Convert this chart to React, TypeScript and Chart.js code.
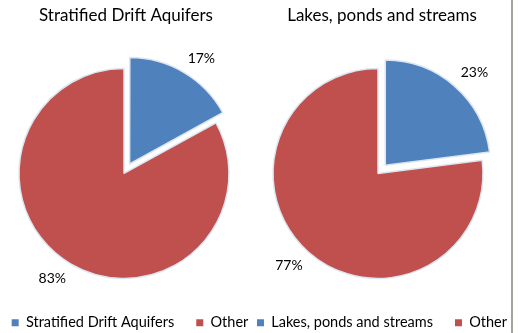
import React, { useEffect, useRef } from 'react';
import { Chart, registerables } from 'chart.js';

Chart.register(...registerables);

const leftTitle = 'Stratified Drift Aquifers';
const leftLabels = ['Stratified Drift Aquifers', 'Other'];
const leftValues = [17, 83];

const rightTitle = 'Lakes, ponds and streams';
const rightLabels = ['Lakes, ponds and streams', 'Other'];
const rightValues = [23, 77];

const sliceColors = ['#4f81bd', '#c0504d'];
// Chart.js arc offset is drawn at offset/4 px, so 44 -> 11px explode
const explode = [44, 0];

const FONT = 'Lato, "Open Sans", sans-serif';

const pctLabelPlugin = {
  id: 'pctLabels',
  afterDatasetsDraw(chart: any) {
    const ctx = chart.ctx;
    const meta = chart.getDatasetMeta(0);
    const ds = chart.data.datasets[0];
    const total = ds.data.reduce((a: number, b: number) => a + b, 0);
    ctx.save();
    ctx.font = `14px ${FONT}`;
    ctx.fillStyle = '#000';
    ctx.textAlign = 'center';
    ctx.textBaseline = 'middle';
    meta.data.forEach((arc: any, i: number) => {
      const { x, y, startAngle, endAngle, outerRadius } = arc.getProps(
        ['x', 'y', 'startAngle', 'endAngle', 'outerRadius'],
        true
      );
      const mid = (startAngle + endAngle) / 2;
      const off = ((ds.offset && ds.offset[i]) || 0) / 4;
      const text = Math.round((ds.data[i] / total) * 100) + '%';
      const w = ctx.measureText(text).width;
      const h = 14;
      const r = outerRadius + off + 9;
      const cx = x + Math.cos(mid) * r + Math.sign(Math.cos(mid)) * w / 2;
      const cy = y + Math.sin(mid) * r + Math.sign(Math.sin(mid)) * h / 2;
      ctx.fillText(text, cx, cy);
    });
    ctx.restore();
  },
};

const shiftPlugin = {
  id: 'boxShift',
  afterLayout(chart: any, _args: any, opts: any) {
    const t = opts.title || 0;
    const l = opts.legend || 0;
    if (chart.titleBlock) {
      chart.titleBlock.left += t;
      chart.titleBlock.right += t;
    }
    if (chart.legend) {
      chart.legend.left += l;
      chart.legend.right += l;
    }
  },
};

function PieChart({
  title,
  labels,
  values,
  left,
  titleShift,
  legendShift,
}: {
  title: string;
  labels: string[];
  values: number[];
  left: number;
  titleShift: number;
  legendShift: number;
}) {
  const ref = useRef<HTMLCanvasElement>(null);
  useEffect(() => {
    if (!ref.current) return;
    const chart = new Chart(ref.current, {
      type: 'pie',
      data: {
        labels,
        datasets: [
          {
            data: values,
            backgroundColor: sliceColors,
            borderColor: '#dce6f2',
            borderWidth: 1.5,
            offset: explode,
            radius: 105,
          } as any,
        ],
      },
      options: {
        responsive: false,
        animation: false,
        layout: { padding: 0 },
        plugins: {
          title: {
            display: true,
            text: title,
            color: '#000',
            font: { family: FONT, size: 17, weight: 'normal' },
            padding: { top: 5, bottom: 28 },
          },
          legend: {
            position: 'bottom',
            labels: {
              boxWidth: 7,
              boxHeight: 7,
              padding: 22,
              color: '#000',
              font: { family: FONT, size: 14.5 },
              generateLabels: (c: any) => {
                const items = Chart.overrides.pie.plugins.legend.labels.generateLabels(c);
                return items.map((it: any) => ({ ...it, lineWidth: 0, strokeStyle: 'transparent' }));
              },
            },
          },
          tooltip: { enabled: false },
          boxShift: { title: titleShift, legend: legendShift },
        },
      } as any,
      plugins: [pctLabelPlugin, shiftPlugin],
    });
    return () => chart.destroy();
  }, [title, labels, values, titleShift, legendShift]);
  return (
    <canvas
      ref={ref}
      width={300}
      height={340}
      style={{ position: 'absolute', left, top: 0, width: 300, height: 340 }}
    />
  );
}

export default function App() {
  return (
    <div
      style={{
        position: 'fixed',
        left: 0,
        top: 0,
        width: 521,
        height: 333,
        overflow: 'hidden',
        background: '#fff',
      }}
    >
      <PieChart
        title={leftTitle}
        labels={leftLabels}
        values={leftValues}
        left={-26}
        titleShift={2}
        legendShift={6}
      />
      <PieChart
        title={rightTitle}
        labels={rightLabels}
        values={rightValues}
        left={228}
        titleShift={4}
        legendShift={4}
      />
      <div style={{ position: 'absolute', left: 511, top: 0, width: 2, height: 333, background: '#a3a59d' }} />
    </div>
  );
}
